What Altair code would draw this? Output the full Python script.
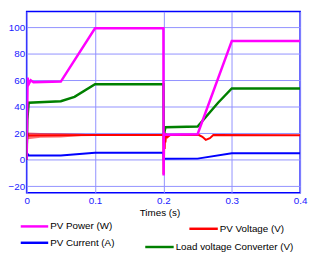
import altair as alt
import pandas as pd

# ---------------- data ----------------
power_t = [0, 0.0008, 0.0015, 0.003, 0.006, 0.01, 0.05, 0.1, 0.2, 0.2003, 0.2008, 0.203, 0.25, 0.3, 0.4]
power_v = [0, 35, 62, 57, 60, 58.5, 59, 99.3, 99.3, -12, 20, 18.8, 19.2, 89.6, 89.6]

load_t = [0, 0.001, 0.003, 0.05, 0.07, 0.1, 0.2, 0.2005, 0.201, 0.203, 0.25, 0.28, 0.3, 0.4]
load_v = [0, 30, 43, 44.2, 47.5, 57, 57, 19, 19.5, 24.5, 25, 43, 53.8, 53.8]

volt_t = [0, 0.001, 0.003, 0.1, 0.2, 0.2003, 0.2006, 0.201, 0.2014, 0.2019, 0.2024,
          0.203, 0.204, 0.206, 0.21, 0.252, 0.257, 0.262, 0.268, 0.273, 0.4]
volt_v = [0, 20, 18.3, 18.6, 18.6, -11, 22, 2, 21, 8, 20,
          13, 19.5, 17, 18.6, 18.6, 17.3, 15, 16.3, 18.6, 18.4]

band_t = [0.002, 0.02, 0.05, 0.08, 0.1]
band_lo = [15.5, 16.5, 16.8, 17.8, 18.1]
band_hi = [20.5, 20.2, 20.0, 19.5, 19.1]

curr_t = [0, 0.001, 0.003, 0.05, 0.1, 0.2, 0.2004, 0.25, 0.3, 0.4]
curr_v = [0, 4.6, 3.2, 3.2, 5.2, 5.2, 0.7, 0.8, 4.9, 4.9]

series_names = ["PV Power (W)", "PV Voltage (V)", "PV Current (A)", "Load voltage Converter (V)"]
series_colors = ["#ff00ff", "#ff0000", "#0000ff", "#008000"]

x_ticks = [0, 0.1, 0.2, 0.3, 0.4]
y_ticks = [-20, 0, 20, 40, 60, 80, 100]

FONT = "Liberation Sans"
GRID = "#9090ff"
BLUE_TXT = "#2020ff"

xscale = alt.Scale(domain=[0, 0.4], nice=False, zero=False)
yscale = alt.Scale(domain=[-25, 112], nice=False, zero=False)

xaxis = alt.Axis(values=x_ticks, format="~g", title="Times (s)", grid=True, gridColor=GRID,
                 gridOpacity=1, ticks=False, domain=False, labelColor=BLUE_TXT, labelFontSize=10,
                 labelFont=FONT, labelPadding=3, labelFlush=False, titleFontSize=10, titleFont=FONT,
                 titleFontWeight="normal", titleColor="black", titleX=135.5, titleY=20,
                 titleBaseline="middle")
yaxis = alt.Axis(values=y_ticks, title=None, grid=True, gridColor=GRID, gridOpacity=1, ticks=False,
                 domain=False, labelColor=BLUE_TXT, labelFontSize=10, labelFont=FONT, labelPadding=2)


def line_layer(ts, vs, name, color, width):
    df = pd.DataFrame({"t": ts, "v": vs, "series": name})
    return alt.Chart(df).mark_line(color=color, strokeWidth=width, clip=True).encode(
        x=alt.X("t:Q", scale=xscale, axis=xaxis),
        y=alt.Y("v:Q", scale=yscale, axis=yaxis),
    )


band_df = pd.DataFrame({"t": band_t, "lo": band_lo, "hi": band_hi})
band = alt.Chart(band_df).mark_area(color="#ff0000", opacity=0.55, clip=True).encode(
    x=alt.X("t:Q", scale=xscale, axis=xaxis),
    y=alt.Y("lo:Q", scale=yscale, axis=yaxis),
    y2="hi:Q",
)

red = line_layer(volt_t, volt_v, series_names[1], series_colors[1], 2)
blue = line_layer(curr_t, curr_v, series_names[2], series_colors[2], 2)
green = line_layer(load_t, load_v, series_names[3], series_colors[3], 2.5)
magenta = line_layer(power_t, power_v, series_names[0], series_colors[0], 2.5)


def legend_item(i, x0, x1, y):
    d = pd.DataFrame({"label": [series_names[i]]})
    rule = alt.Chart(d).mark_rule(color=series_colors[i], strokeWidth=2.5).encode(
        x=alt.value(x0), x2=alt.value(x1), y=alt.value(y))
    txt = alt.Chart(d).mark_text(align="left", baseline="middle", fontSize=10, font=FONT,
                                 color="black").encode(
        x=alt.value(x1 + 2), y=alt.value(y), text="label:N")
    return rule + txt


legend = (legend_item(0, -6, 22, 219.3) + legend_item(1, 166, 195, 221.7)
          + legend_item(2, -6, 22, 236) + legend_item(3, 121, 150, 240.3))

chart = alt.layer(red, band, blue, green, magenta, legend).properties(
    width=279, height=185,
    autosize=alt.AutoSizeParams(type="none"),
    padding={"left": 19, "top": 1, "right": 8, "bottom": 62},
    background="white",
).configure_view(stroke="#0000ff", strokeWidth=1.5)

chart.save("out.html", embed_options={"renderer": "svg", "actions": False})
